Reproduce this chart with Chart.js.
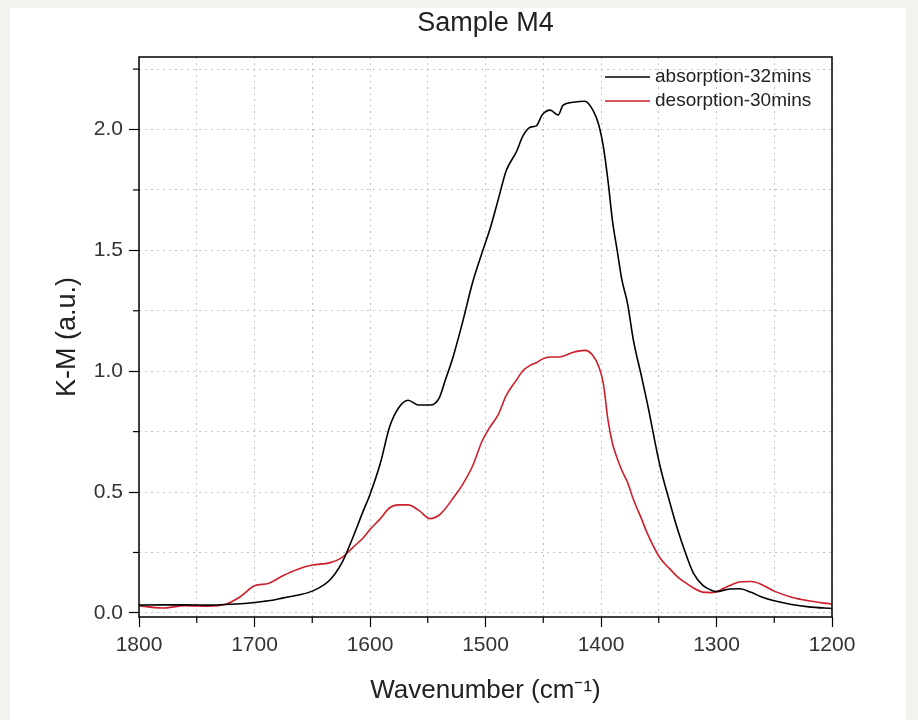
<!DOCTYPE html>
<html>
<head>
<meta charset="utf-8">
<script src="https://cdn.jsdelivr.net/npm/chart.js@4"></script>
<style>
  html, body { margin: 0; padding: 0; background: #f4f2ee; }
  #panel { position: absolute; left: 10px; top: 8px; width: 896px; height: 712px; background: #ffffff; }
</style>
</head>
<body>
<div id="panel"><canvas id="chartM4" width="896" height="712"></canvas></div>
<script>
// Dados (número de onda em cm-1)
const wavenumbers = [1800, 1780, 1760, 1740, 1725, 1712, 1700, 1688, 1675, 1663, 1650, 1635, 1624, 1615, 1606, 1600,
    1591, 1583, 1575, 1567, 1558, 1548, 1540, 1535, 1528, 1520, 1511, 1503, 1496, 1489, 1482, 1473, 1468, 1461, 1456,
    1451, 1444, 1437, 1433, 1424, 1414, 1407, 1402, 1398, 1394, 1390, 1386, 1382, 1377, 1372, 1365, 1360, 1349, 1340,
    1334, 1327, 1320, 1312, 1305, 1300, 1290, 1280, 1270, 1262, 1250, 1235, 1220, 1200];

const absorption32 = [0.032, 0.033, 0.033, 0.032, 0.035, 0.038, 0.043, 0.050, 0.062, 0.073, 0.090, 0.135, 0.210, 0.310, 0.420, 0.490,
    0.620, 0.770, 0.850, 0.880, 0.860, 0.860, 0.890, 0.960, 1.060, 1.200, 1.370, 1.490, 1.590, 1.710, 1.830, 1.910, 1.970, 2.010, 2.015,
    2.060, 2.080, 2.060, 2.100, 2.113, 2.117, 2.080, 2.020, 1.930, 1.790, 1.620, 1.500, 1.380, 1.280, 1.130, 0.980, 0.870, 0.610, 0.450,
    0.350, 0.250, 0.165, 0.115, 0.095, 0.088, 0.098, 0.100, 0.085, 0.068, 0.050, 0.035, 0.025, 0.018];

const desorption30 = [0.030, 0.020, 0.030, 0.028, 0.036, 0.068, 0.112, 0.122, 0.155, 0.180, 0.198, 0.207, 0.230, 0.270, 0.310, 0.345,
    0.390, 0.435, 0.447, 0.447, 0.425, 0.390, 0.405, 0.430, 0.475, 0.530, 0.610, 0.710, 0.770, 0.820, 0.900, 0.965, 1.000, 1.025, 1.035,
    1.050, 1.059, 1.059, 1.062, 1.078, 1.086, 1.065, 1.020, 0.950, 0.800, 0.700, 0.640, 0.590, 0.540, 0.470, 0.390, 0.330, 0.228, 0.180,
    0.150, 0.125, 0.103, 0.086, 0.084, 0.088, 0.110, 0.128, 0.130, 0.120, 0.090, 0.065, 0.050, 0.036];

const seriesLabels = ['absorption-32mins', 'desorption-30mins'];
const xTickLabels = [1800, 1700, 1600, 1500, 1400, 1300, 1200];
const yTickLabels = [0.0, 0.5, 1.0, 1.5, 2.0];

const FONT = "'Liberation Sans', Arial, sans-serif";

function pontos(valores) {
    return wavenumbers.map((w, i) => ({ x: w, y: valores[i] }));
}

// moldura completa em volta da área do gráfico
const molduraPlugin = {
    id: 'moldura',
    afterDatasetsDraw(chart) {
        const { ctx, chartArea: a } = chart;
        ctx.save();
        ctx.strokeStyle = '#000';
        ctx.lineWidth = 1.5;
        ctx.strokeRect(a.left, a.top, a.right - a.left, a.bottom - a.top);
        ctx.restore();
    }
};

// ticks menores curtos (os maiores vêm do próprio Chart.js)
const ticksMenoresPlugin = {
    id: 'ticksMenores',
    afterDraw(chart) {
        const { ctx, chartArea: a } = chart;
        const xs = chart.scales.x, ys = chart.scales.y;
        ctx.save();
        ctx.strokeStyle = '#000';
        ctx.lineWidth = 1.2;
        xs.ticks.forEach(t => {
            if (t.value % 100 === 0) return;
            const px = xs.getPixelForValue(t.value);
            ctx.beginPath(); ctx.moveTo(px, a.bottom); ctx.lineTo(px, a.bottom + 6); ctx.stroke();
        });
        ys.ticks.forEach(t => {
            if (Math.abs(t.value * 2 - Math.round(t.value * 2)) < 1e-6) return;
            const py = ys.getPixelForValue(t.value);
            ctx.beginPath(); ctx.moveTo(a.left, py); ctx.lineTo(a.left - 6, py); ctx.stroke();
        });
        ctx.restore();
    }
};

// legenda dentro da área, canto superior direito
const legendaPlugin = {
    id: 'legendaInterna',
    afterDraw(chart) {
        const { ctx, chartArea: a } = chart;
        ctx.save();
        ctx.font = '19px ' + FONT;
        ctx.textBaseline = 'middle';
        chart.data.datasets.forEach((ds, i) => {
            const y = a.top + 20 + i * 24;
            const x0 = a.right - 227;
            ctx.strokeStyle = ds.borderColor;
            ctx.lineWidth = 1.5;
            ctx.beginPath(); ctx.moveTo(x0, y); ctx.lineTo(x0 + 45, y); ctx.stroke();
            ctx.fillStyle = '#222';
            ctx.fillText(ds.label, x0 + 50, y);
        });
        ctx.restore();
    }
};

const ctx = document.getElementById('chartM4');
new Chart(ctx, {
    type: 'line',
    data: {
        datasets: [
            { label: seriesLabels[0], data: pontos(absorption32), borderColor: '#000000', borderWidth: 1.6, pointRadius: 0, cubicInterpolationMode: 'monotone' },
            { label: seriesLabels[1], data: pontos(desorption30), borderColor: '#cc1f2b', borderWidth: 1.6, pointRadius: 0, cubicInterpolationMode: 'monotone' }
        ]
    },
    options: {
        responsive: false,
        animation: false,
        layout: { padding: { left: 0, right: 74, top: 0, bottom: 0 } },
        plugins: {
            legend: { display: false },
            tooltip: { enabled: false },
            title: {
                display: true,
                fullSize: false,
                text: 'Sample M4',
                color: '#222',
                font: { family: FONT, size: 27, weight: 'normal', lineHeight: 1.0 },
                padding: { top: 2, bottom: 20 }
            }
        },
        scales: {
            x: {
                type: 'linear',
                reverse: true,
                min: 1200,
                max: 1800,
                afterFit(scale) { scale.height = 103; },
                ticks: {
                    stepSize: 50,
                    autoSkip: false,
                    maxRotation: 0,
                    padding: 6,
                    color: '#333',
                    font: { family: FONT, size: 21 },
                    callback: v => xTickLabels.includes(v) ? String(v) : ''
                },
                grid: {
                    color: '#c4c4c4',
                    lineWidth: 1,
                    tickLength: 10,
                    tickColor: c => (c.tick && c.tick.value % 100 === 0) ? '#000' : 'rgba(0,0,0,0)',
                    tickWidth: 1.2,
                    tickBorderDash: []
                },
                border: { display: false, dash: [2, 4] },
                title: {
                    display: true,
                    text: 'Wavenumber (cm⁻¹)',
                    color: '#222',
                    font: { family: FONT, size: 26 },
                    padding: { top: 0, bottom: 14 }
                }
            },
            y: {
                min: -0.017,
                max: 2.3,
                afterFit(scale) { scale.width = 129; },
                ticks: {
                    stepSize: 0.25,
                    includeBounds: false,
                    autoSkip: false,
                    padding: 6,
                    color: '#333',
                    font: { family: FONT, size: 21 },
                    callback: v => {
                        const hit = yTickLabels.find(t => Math.abs(t - v) < 1e-6);
                        return hit !== undefined ? hit.toFixed(1) : '';
                    }
                },
                grid: {
                    color: '#c4c4c4',
                    lineWidth: 1,
                    tickLength: 10,
                    tickColor: c => {
                        if (!c.tick) return 'rgba(0,0,0,0)';
                        const v = c.tick.value * 2;
                        return Math.abs(v - Math.round(v)) < 1e-6 ? '#000' : 'rgba(0,0,0,0)';
                    },
                    tickWidth: 1.2,
                    tickBorderDash: []
                },
                border: { display: false, dash: [2, 4] },
                title: {
                    display: true,
                    text: 'K-M (a.u.)',
                    color: '#222',
                    font: { family: FONT, size: 27 },
                    padding: { top: 41, bottom: 0 }
                }
            }
        }
    },
    plugins: [molduraPlugin, ticksMenoresPlugin, legendaPlugin]
});
</script>
</body>
</html>
